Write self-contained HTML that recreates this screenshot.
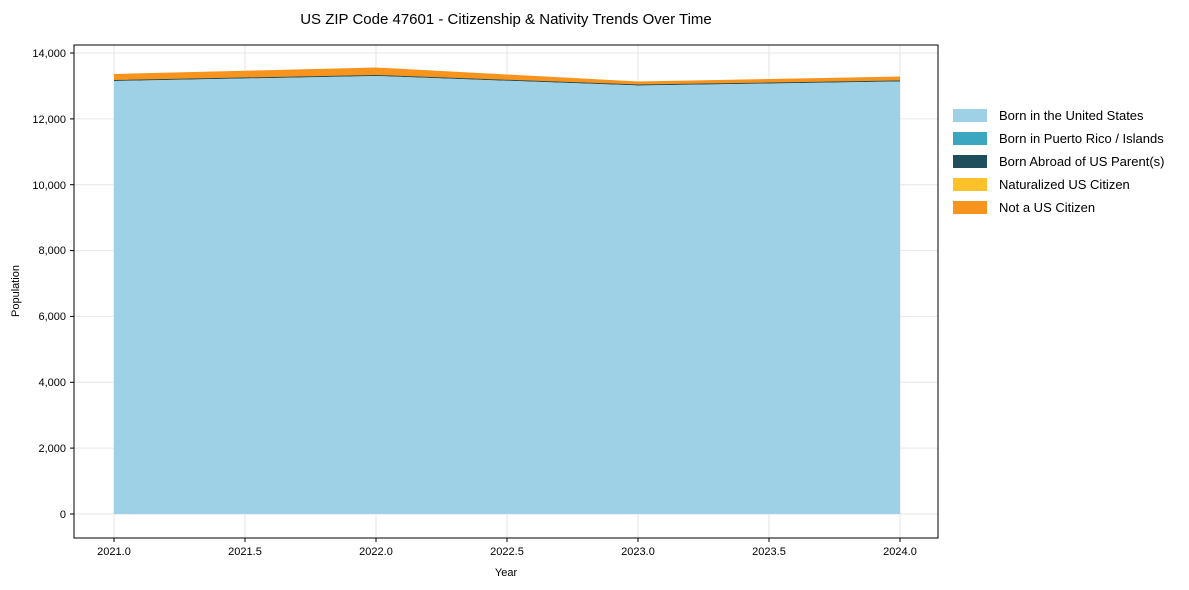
<!DOCTYPE html>
<html><head><meta charset="utf-8"><style>body{margin:0;background:#fff}svg{display:block;font-family:"Liberation Sans",Arial,sans-serif}</style></head><body>
<svg width="1189" height="590" viewBox="0 0 1189 590">
<text x="506" y="24" text-anchor="middle" font-size="15">US ZIP Code 47601 - Citizenship &amp; Nativity Trends Over Time</text>
<g stroke="#e6e6e6" stroke-width="1">
<line x1="114" y1="45" x2="114" y2="538"/><line x1="245" y1="45" x2="245" y2="538"/><line x1="376" y1="45" x2="376" y2="538"/><line x1="507" y1="45" x2="507" y2="538"/><line x1="638" y1="45" x2="638" y2="538"/><line x1="769" y1="45" x2="769" y2="538"/><line x1="900" y1="45" x2="900" y2="538"/>
<line x1="74" y1="514" x2="938" y2="514"/><line x1="74" y1="448.1" x2="938" y2="448.1"/><line x1="74" y1="382.3" x2="938" y2="382.3"/><line x1="74" y1="316.4" x2="938" y2="316.4"/><line x1="74" y1="250.6" x2="938" y2="250.6"/><line x1="74" y1="184.7" x2="938" y2="184.7"/><line x1="74" y1="118.9" x2="938" y2="118.9"/><line x1="74" y1="53" x2="938" y2="53"/>
</g>
<polygon points="114,74 376,67.5 638,81.5 900,76.5 900,81.5 638,85.5 376,76 114,81" fill="#f7941d"/>
<polygon points="114,80 376,75 638,84.5 900,80.5 900,81.5 638,85.5 376,76 114,81" fill="#1e4d5c"/>
<polygon points="114,81 376,76 638,85.5 900,81.5 900,514 114,514" fill="#9ed0e6"/>
<rect x="74" y="45" width="864" height="493" fill="none" stroke="#000" stroke-width="1"/>
<g font-size="11" text-anchor="end">
<text x="66" y="518">0</text><text x="66" y="452">2,000</text><text x="66" y="386">4,000</text><text x="66" y="320">6,000</text><text x="66" y="254">8,000</text><text x="66" y="189">10,000</text><text x="66" y="123">12,000</text><text x="66" y="57">14,000</text>
</g>
<g stroke="#000"><line x1="70" x2="74" y1="514" y2="514"/><line x1="70" x2="74" y1="448.1" y2="448.1"/><line x1="70" x2="74" y1="382.3" y2="382.3"/><line x1="70" x2="74" y1="316.4" y2="316.4"/><line x1="70" x2="74" y1="250.6" y2="250.6"/><line x1="70" x2="74" y1="184.7" y2="184.7"/><line x1="70" x2="74" y1="118.9" y2="118.9"/><line x1="70" x2="74" y1="53" y2="53"/>
<line y1="538" y2="542" x1="114" x2="114"/><line y1="538" y2="542" x1="245" x2="245"/><line y1="538" y2="542" x1="376" x2="376"/><line y1="538" y2="542" x1="507" x2="507"/><line y1="538" y2="542" x1="638" x2="638"/><line y1="538" y2="542" x1="769" x2="769"/><line y1="538" y2="542" x1="900" x2="900"/></g>
<g font-size="11" text-anchor="middle">
<text x="114" y="555">2021.0</text><text x="245" y="555">2021.5</text><text x="376" y="555">2022.0</text><text x="507" y="555">2022.5</text><text x="638" y="555">2023.0</text><text x="769" y="555">2023.5</text><text x="900" y="555">2024.0</text>
<text x="506" y="576">Year</text>
<text transform="translate(19,291) rotate(-90)">Population</text>
</g>
<g font-size="13">
<rect x="953" y="109" width="34" height="13" fill="#9ed0e6"/><text x="999" y="120">Born in the United States</text>
<rect x="953" y="132" width="34" height="13" fill="#3aa6bf"/><text x="999" y="143">Born in Puerto Rico / Islands</text>
<rect x="953" y="155" width="34" height="13" fill="#1e4d5c"/><text x="999" y="166">Born Abroad of US Parent(s)</text>
<rect x="953" y="178" width="34" height="13" fill="#fdc12a"/><text x="999" y="189">Naturalized US Citizen</text>
<rect x="953" y="201" width="34" height="13" fill="#f7941d"/><text x="999" y="212">Not a US Citizen</text>
</g>
</svg>
</body></html>
